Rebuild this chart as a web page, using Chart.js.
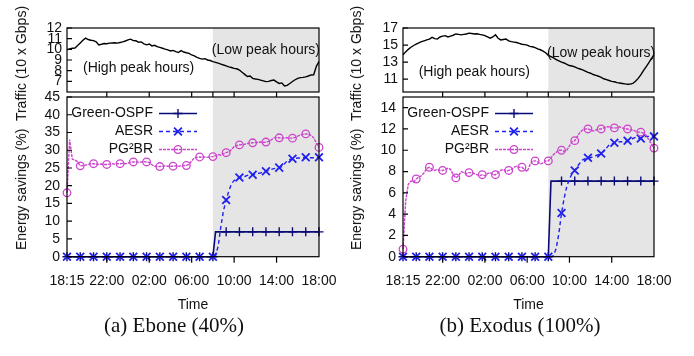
<!DOCTYPE html>
<html>
<head>
<meta charset="utf-8">
<script src="https://cdn.jsdelivr.net/npm/chart.js"></script>
<style>
  html, body { margin: 0; padding: 0; background: #fff; }
  #wrap { position: relative; width: 694px; height: 356px; overflow: hidden;
          font-family: "Liberation Sans", Arial, sans-serif; color: #111; }
  #wrap canvas { position: absolute; left: 0; top: 0; }
  .ytitle { position: absolute; font-size: 14px; white-space: pre; line-height: 1;
            transform: translate(-50%, -50%) rotate(-90deg); }
  .caption { position: absolute; font-family: "Liberation Serif", "Times New Roman", serif;
             font-size: 21px; line-height: 1; white-space: nowrap; transform: translate(-50%, -50%); }
</style>
</head>
<body>
<div id="wrap">
  <canvas id="trafficEbone" width="694" height="356"></canvas>
  <canvas id="savingsEbone" width="694" height="356"></canvas>
  <canvas id="trafficExodus" width="694" height="356"></canvas>
  <canvas id="savingsExodus" width="694" height="356"></canvas>
  <div class="ytitle" style="left:21px; top:128px;">Energy savings (%)  Traffic (10 x Gbps)</div>
  <div class="ytitle" style="left:356px; top:128px;">Energy savings (%)  Traffic (10 x Gbps)</div>
  <div class="caption" style="left:174px; top:325px;">(a) Ebone (40%)</div>
  <div class="caption" style="left:520px; top:325px;">(b) Exodus (100%)</div>
</div>
<script>
// ---- time axis: one sample every 15 minutes, 18:15 to 18:00 next day ----
const TIME_LABELS = [];
for (let m = 18 * 60 + 15; m <= 42 * 60; m += 15) {
  const h = Math.floor(m / 60) % 24, mm = m % 60;
  TIME_LABELS.push(String(h).padStart(2, '0') + ':' + String(mm).padStart(2, '0'));
}
const TIME_TICKS = ['18:15', '22:00', '02:00', '06:00', '10:00', '14:00', '18:00'];
const LOW_PEAK_START = '08:00';
const MARKER_EVERY = 5;

// ---- traffic (10 x Gbps) ----
const EBONE_TRAFFIC = [
  9.95, 10.05, 10.10, 10.12, 10.35, 10.60, 10.85, 11.05, 10.92, 10.85,
  10.82, 10.70, 10.42, 10.48, 10.55, 10.52, 10.58, 10.60, 10.62, 10.58,
  10.64, 10.70, 10.78, 10.88, 10.95, 10.82, 10.80, 10.66, 10.70, 10.52,
  10.42, 10.50, 10.32, 10.38, 10.25, 10.18, 10.10, 10.02, 9.95, 9.85,
  9.90, 9.78, 9.70, 9.88, 9.75, 9.68, 9.62, 9.47, 9.38, 9.25,
  9.16, 9.08, 9.12, 9.00, 8.95, 8.85, 8.78, 8.70, 8.62, 8.53,
  8.45, 8.35, 8.30, 8.22, 8.18, 8.06, 7.85, 7.65, 7.45, 7.50,
  7.28, 7.22, 7.18, 7.12, 7.05, 6.97, 7.00, 7.08, 7.12, 6.95,
  6.80, 6.85, 6.56, 6.62, 6.80, 6.98, 7.15, 7.28, 7.35, 7.37,
  7.42, 7.50, 7.60, 7.62, 8.40, 8.84
];
const EXODUS_TRAFFIC = [
  13.86, 14.20, 14.50, 14.75, 14.95, 15.10, 15.25, 15.40, 15.50, 15.60,
  15.70, 15.90, 15.75, 15.70, 15.95, 16.05, 16.10, 15.95, 16.05, 16.15,
  16.30, 16.25, 16.20, 16.25, 16.30, 16.40, 16.35, 16.30, 16.32, 16.25,
  16.20, 16.10, 15.95, 15.80, 15.95, 16.20, 15.80, 15.60, 15.65, 15.70,
  15.50, 15.40, 15.35, 15.30, 15.20, 15.10, 15.05, 15.00, 14.85, 14.80,
  14.70, 14.55, 14.45, 14.30, 14.10, 13.80, 13.65, 13.50, 13.30, 13.15,
  13.00, 12.90, 12.75, 12.60, 12.55, 12.45, 12.30, 12.20, 12.10, 11.95,
  11.80, 11.70, 11.55, 11.45, 11.35, 11.20, 11.05, 10.95, 10.85, 10.75,
  10.70, 10.60, 10.55, 10.50, 10.45, 10.40, 10.42, 10.50, 10.75, 11.10,
  11.50, 12.00, 12.45, 12.90, 13.40, 13.86
];

// ---- energy savings (%) ----
const EBONE_GREEN_OSPF = [
  0, 0, 0, 0, 0, 0, 0, 0, 0, 0,
  0, 0, 0, 0, 0, 0, 0, 0, 0, 0,
  0, 0, 0, 0, 0, 0, 0, 0, 0, 0,
  0, 0, 0, 0, 0, 0, 0, 0, 0, 0,
  0, 0, 0, 0, 0, 0, 0, 0, 0, 0,
  0, 0, 0, 0, 0, 0, 7.0, 7.0, 7.0, 7.0,
  7.0, 7.0, 7.0, 7.0, 7.0, 7.0, 7.0, 7.0, 7.0, 7.0,
  7.0, 7.0, 7.0, 7.0, 7.0, 7.0, 7.0, 7.0, 7.0, 7.0,
  7.0, 7.0, 7.0, 7.0, 7.0, 7.0, 7.0, 7.0, 7.0, 7.0,
  7.0, 7.0, 7.0, 7.0, 7.0, 7.0
];
const EBONE_AESR = [
  0, 0, 0, 0, 0, 0, 0, 0, 0, 0,
  0, 0, 0, 0, 0, 0, 0, 0, 0, 0,
  0, 0, 0, 0, 0, 0, 0, 0, 0, 0,
  0, 0, 0, 0, 0, 0, 0, 0, 0, 0,
  0, 0, 0, 0, 0, 0, 0, 0, 0, 0,
  0, 0, 0, 0, 0, 0, 0.3, 3.0, 8.5, 13.0,
  16.0, 18.5, 20.5, 21.5, 22.0, 22.3, 22.5, 22.6, 22.9, 23.0,
  23.1, 23.3, 23.5, 23.6, 23.9, 24.1, 24.3, 24.6, 24.8, 25.0,
  25.1, 25.4, 26.2, 27.0, 27.4, 27.6, 27.7, 27.8, 27.8, 27.9,
  28.0, 27.9, 27.9, 27.9, 28.0, 28.0
];
const EBONE_PG2BR = [
  18.0, 33.0, 27.5, 27.2, 26.8, 25.6, 25.7, 25.8, 26.0, 26.2,
  26.2, 26.1, 26.0, 26.1, 26.0, 26.0, 26.1, 26.2, 26.1, 26.2,
  26.2, 26.3, 26.2, 26.4, 26.6, 26.7, 26.7, 26.6, 26.7, 26.8,
  26.7, 26.5, 25.9, 25.5, 25.4, 25.4, 25.5, 25.6, 25.5, 25.5,
  25.5, 25.6, 25.5, 25.6, 25.7, 25.7, 26.0, 27.0, 27.9, 28.0,
  28.1, 28.0, 28.1, 28.0, 28.1, 28.2, 28.5, 28.8, 28.6, 29.0,
  29.3, 29.6, 30.2, 31.0, 31.3, 31.5, 31.6, 31.7, 31.9, 32.0,
  32.1, 32.2, 32.2, 32.3, 32.2, 32.3, 32.5, 32.9, 33.5, 33.6,
  33.5, 33.4, 33.5, 33.5, 33.4, 33.4, 33.6, 34.0, 34.3, 34.5,
  34.6, 34.5, 34.2, 33.5, 32.0, 30.8
];
const EXODUS_GREEN_OSPF = [
  0, 0, 0, 0, 0, 0, 0, 0, 0, 0,
  0, 0, 0, 0, 0, 0, 0, 0, 0, 0,
  0, 0, 0, 0, 0, 0, 0, 0, 0, 0,
  0, 0, 0, 0, 0, 0, 0, 0, 0, 0,
  0, 0, 0, 0, 0, 0, 0, 0, 0, 0,
  0, 0, 0, 0, 0, 0, 7.1, 7.1, 7.1, 7.1,
  7.1, 7.1, 7.1, 7.1, 7.1, 7.1, 7.1, 7.1, 7.1, 7.1,
  7.1, 7.1, 7.1, 7.1, 7.1, 7.1, 7.1, 7.1, 7.1, 7.1,
  7.1, 7.1, 7.1, 7.1, 7.1, 7.1, 7.1, 7.1, 7.1, 7.1,
  7.1, 7.1, 7.1, 7.1, 7.1, 7.1
];
const EXODUS_AESR = [
  0, 0, 0, 0, 0, 0, 0, 0, 0, 0,
  0, 0, 0, 0, 0, 0, 0, 0, 0, 0,
  0, 0, 0, 0, 0, 0, 0, 0, 0, 0,
  0, 0, 0, 0, 0, 0, 0, 0, 0, 0,
  0, 0, 0, 0, 0, 0, 0, 0, 0, 0,
  0, 0, 0, 0, 0, 0, 0, 0.1, 0.8, 2.2,
  4.1, 5.5, 6.6, 7.3, 7.8, 8.1, 8.5, 8.8, 9.1, 9.2,
  9.3, 9.3, 9.4, 9.5, 9.6, 9.7, 9.9, 10.2, 10.5, 10.6,
  10.7, 10.7, 10.8, 10.8, 10.8, 10.9, 11.0, 11.1, 11.2, 11.1,
  11.1, 11.2, 11.3, 11.3, 11.3, 11.3
];
const EXODUS_PG2BR = [
  0.7, 5.2, 6.8, 7.1, 7.0, 7.3, 7.5, 7.6, 7.9, 8.3,
  8.4, 8.2, 8.1, 8.2, 8.1, 8.1, 8.2, 8.3, 8.2, 7.7,
  7.4, 7.6, 8.0, 7.9, 7.8, 7.9, 7.9, 7.8, 7.7, 7.6,
  7.7, 7.6, 7.8, 7.9, 7.7, 7.7, 7.9, 8.1, 8.2, 8.0,
  8.1, 8.2, 8.4, 8.5, 8.4, 8.4, 8.2, 8.0, 8.6, 9.0,
  9.0, 8.9, 8.7, 8.8, 9.0, 9.0, 9.3, 9.6, 9.8, 10.0,
  10.0, 9.9, 10.0, 10.4, 10.8, 10.9, 11.3, 11.7, 11.9, 12.0,
  12.0, 11.9, 11.8, 11.9, 12.0, 12.0, 12.1, 12.2, 12.2, 12.1,
  12.1, 12.1, 12.2, 12.1, 12.0, 12.0, 11.9, 11.9, 11.8, 11.7,
  11.7, 11.6, 11.4, 11.0, 10.6, 10.2
];

// ---- y-axis tick values ----
const EBONE_TRAFFIC_TICKS = [7, 8, 9, 10, 11, 12];
const EXODUS_TRAFFIC_TICKS = [11, 13, 15, 17];
const EBONE_SAVINGS_TICKS = [0, 5, 10, 15, 20, 25, 30, 35, 40, 45];
const EXODUS_SAVINGS_TICKS = [0, 2, 4, 6, 8, 10, 12, 14];

// ---- look ----
const PAGE_W = 694, PAGE_H = 356;
const Y_AXIS_W = 40, X_AXIS_H = 60;
const FONT = '"Liberation Sans", Arial, sans-serif';
const SHADE = '#e5e5e5';
const STYLE = {
  green: { color: '#0b0b78', width: 1.6, dash: [], marker: 'cross', size: 4.5, markerWidth: 1.4 },
  aesr:  { color: '#2020f0', width: 1.4, dash: [4, 3], marker: 'crossRot', size: 5.5, markerWidth: 1.8 },
  pg2br: { color: '#cc44cc', width: 1.4, dash: [3, 1], marker: 'circle', size: 3.8, markerWidth: 1.3 }
};

Chart.defaults.font.family = FONT;
Chart.defaults.font.size = 14;
Chart.defaults.color = '#111';

function drawMarker(ctx, kind, x, y, r) {
  ctx.beginPath();
  if (kind === 'cross') {
    ctx.moveTo(x - r, y); ctx.lineTo(x + r, y);
    ctx.moveTo(x, y - r); ctx.lineTo(x, y + r);
  } else if (kind === 'crossRot') {
    const d = r * Math.SQRT1_2;
    ctx.moveTo(x - d, y - d); ctx.lineTo(x + d, y + d);
    ctx.moveTo(x - d, y + d); ctx.lineTo(x + d, y - d);
  } else {
    ctx.arc(x, y, r, 0, Math.PI * 2);
  }
  ctx.stroke();
}

// Gnuplot-like frame: shaded low-peak band, boxed plot area, short tick marks,
// in-plot notes and a right-aligned key.
const framePlugin = {
  id: 'frame',
  beforeDatasetsDraw(chart) {
    const { ctx, chartArea: a } = chart;
    const x0 = chart.scales.x.getPixelForValue(TIME_LABELS.indexOf(LOW_PEAK_START));
    ctx.save();
    ctx.fillStyle = SHADE;
    ctx.fillRect(x0, a.top, a.right - x0, a.bottom - a.top);
    ctx.restore();
  },
  afterDatasetsDraw(chart, _args, o) {
    const { ctx, chartArea: a } = chart;
    const xs = chart.scales.x, ys = chart.scales.y;
    const px = lbl => xs.getPixelForValue(TIME_LABELS.indexOf(lbl));
    ctx.save();
    ctx.strokeStyle = '#000';
    ctx.lineWidth = 1.2;
    ctx.strokeRect(a.left, a.top, a.right - a.left, a.bottom - a.top);
    ctx.beginPath();
    ys.ticks.forEach(t => {
      const py = ys.getPixelForValue(t.value);
      ctx.moveTo(a.left, py); ctx.lineTo(a.left + 5, py);
    });
    (o.ticksBelow || []).forEach(l => { ctx.moveTo(px(l), a.bottom); ctx.lineTo(px(l), a.bottom + 6); });
    (o.ticksAbove || []).forEach(l => { ctx.moveTo(px(l), a.top); ctx.lineTo(px(l), a.top - 5); });
    ctx.stroke();

    ctx.fillStyle = '#111';
    ctx.font = '14px ' + FONT;
    ctx.textBaseline = 'middle';
    ctx.textAlign = 'center';
    (o.notes || []).forEach(n => ctx.fillText(n.text, px(n.at), ys.getPixelForValue(n.y)));

    if (o.key) {
      const k = o.key;
      chart.data.datasets.forEach((ds, i) => {
        const s = ds.look;
        const yy = a.top + k.firstRow + i * k.rowGap;
        ctx.textAlign = 'right';
        ctx.fillStyle = '#111';
        ctx.fillText(ds.label, a.left + k.textRight, yy);
        ctx.strokeStyle = s.color;
        ctx.lineWidth = s.width;
        ctx.setLineDash(s.dash);
        ctx.beginPath();
        ctx.moveTo(a.left + k.lineFrom, yy); ctx.lineTo(a.left + k.lineTo, yy);
        ctx.stroke();
        ctx.setLineDash([]);
        ctx.lineWidth = s.markerWidth;
        drawMarker(ctx, s.marker, a.left + (k.lineFrom + k.lineTo) / 2, yy, s.size);
      });
    }
    ctx.restore();
  }
};

function yAxis(min, max, tickValues, pad) {
  return {
    type: 'linear', min, max,
    afterFit: s => { s.width = Y_AXIS_W; },
    afterBuildTicks: s => { s.ticks = tickValues.map(v => ({ value: v })); },
    grid: { display: false, drawTicks: false },
    border: { display: false },
    ticks: { padding: pad, autoSkip: false, color: '#111', font: { size: 14 } }
  };
}

function padding(area, xAxisH) {
  return { left: area.left - Y_AXIS_W, top: area.top, right: PAGE_W - area.right,
           bottom: PAGE_H - area.bottom - xAxisH };
}

function trafficChart(id, area, values, yMin, yMax, ticks, notes) {
  return new Chart(document.getElementById(id), {
    type: 'line',
    data: {
      labels: TIME_LABELS,
      datasets: [{ label: 'Traffic', data: values, borderColor: '#000', borderWidth: 1.4,
                   pointRadius: 0, tension: 0, fill: false }]
    },
    options: {
      responsive: false, animation: false, events: [],
      layout: { padding: padding(area, 0) },
      plugins: { legend: { display: false }, tooltip: { enabled: false }, frame: { notes } },
      scales: {
        x: { type: 'category', display: false },
        y: yAxis(yMin, yMax, ticks, 5)
      }
    },
    plugins: [framePlugin]
  });
}

function seriesSet(green, aesr, pg2br) {
  const mk = (label, data, s, order) => ({
    label, data, look: s, order,
    borderColor: s.color, borderWidth: s.width, borderDash: s.dash,
    pointStyle: s.marker, pointBorderColor: s.color, pointBackgroundColor: 'rgba(0,0,0,0)',
    pointBorderWidth: s.markerWidth,
    pointRadius: c => (c.dataIndex % MARKER_EVERY === 0 ? s.size : 0),
    tension: 0, fill: false, clip: false
  });
  return [
    mk('Green-OSPF', green, STYLE.green, 3),
    mk('AESR', aesr, STYLE.aesr, 2),
    mk('PG\u00B2BR', pg2br, STYLE.pg2br, 1)
  ];
}

function savingsChart(id, area, datasets, yMax, ticks, key) {
  const tickIdx = TIME_TICKS.map(t => TIME_LABELS.indexOf(t));
  return new Chart(document.getElementById(id), {
    type: 'line',
    data: { labels: TIME_LABELS, datasets },
    options: {
      responsive: false, animation: false, events: [],
      layout: { padding: padding(area, X_AXIS_H) },
      plugins: {
        legend: { display: false }, tooltip: { enabled: false },
        frame: {
          key,
          ticksBelow: ['22:00', '02:00', '06:00', '10:00', '14:00'],
          ticksAbove: ['22:00', '02:00', '06:00', '08:00', '10:00', '14:00']
        }
      },
      scales: {
        x: {
          type: 'category', offset: false,
          afterFit: s => { s.height = X_AXIS_H; },
          afterBuildTicks: s => { s.ticks = tickIdx.map(v => ({ value: v })); },
          grid: { display: false, drawTicks: false },
          border: { display: false },
          ticks: { padding: 16, autoSkip: false, maxRotation: 0, color: '#111', font: { size: 14 } },
          title: { display: true, text: 'Time', color: '#111', font: { size: 14 }, padding: { top: 0, bottom: 3 } }
        },
        y: yAxis(0, yMax, ticks, 7)
      }
    },
    plugins: [framePlugin]
  });
}

const KEY = { textRight: 86, lineFrom: 92, lineTo: 130, firstRow: 16.5, rowGap: 18 };

const AREA_TRAFFIC_A = { left: 67, top: 28, right: 319, bottom: 92 };
const AREA_SAVINGS_A = { left: 67, top: 97, right: 319, bottom: 256.7 };
const AREA_TRAFFIC_B = { left: 403, top: 28, right: 654, bottom: 92 };
const AREA_SAVINGS_B = { left: 403, top: 97, right: 654, bottom: 256.7 };

trafficChart('trafficEbone', AREA_TRAFFIC_A, EBONE_TRAFFIC, 6, 12, EBONE_TRAFFIC_TICKS, [
  { text: '(High peak hours)', at: '01:00', y: 8.25 },
  { text: '(Low peak hours)', at: '13:00', y: 9.95 }
]);
trafficChart('trafficExodus', AREA_TRAFFIC_B, EXODUS_TRAFFIC, 9.5, 17, EXODUS_TRAFFIC_TICKS, [
  { text: '(High peak hours)', at: '01:00', y: 11.86 },
  { text: '(Low peak hours)', at: '13:00', y: 14.1 }
]);
savingsChart('savingsEbone', AREA_SAVINGS_A,
  seriesSet(EBONE_GREEN_OSPF, EBONE_AESR, EBONE_PG2BR), 45, EBONE_SAVINGS_TICKS, KEY);
savingsChart('savingsExodus', AREA_SAVINGS_B,
  seriesSet(EXODUS_GREEN_OSPF, EXODUS_AESR, EXODUS_PG2BR), 15, EXODUS_SAVINGS_TICKS, KEY);
</script>
</body>
</html>
